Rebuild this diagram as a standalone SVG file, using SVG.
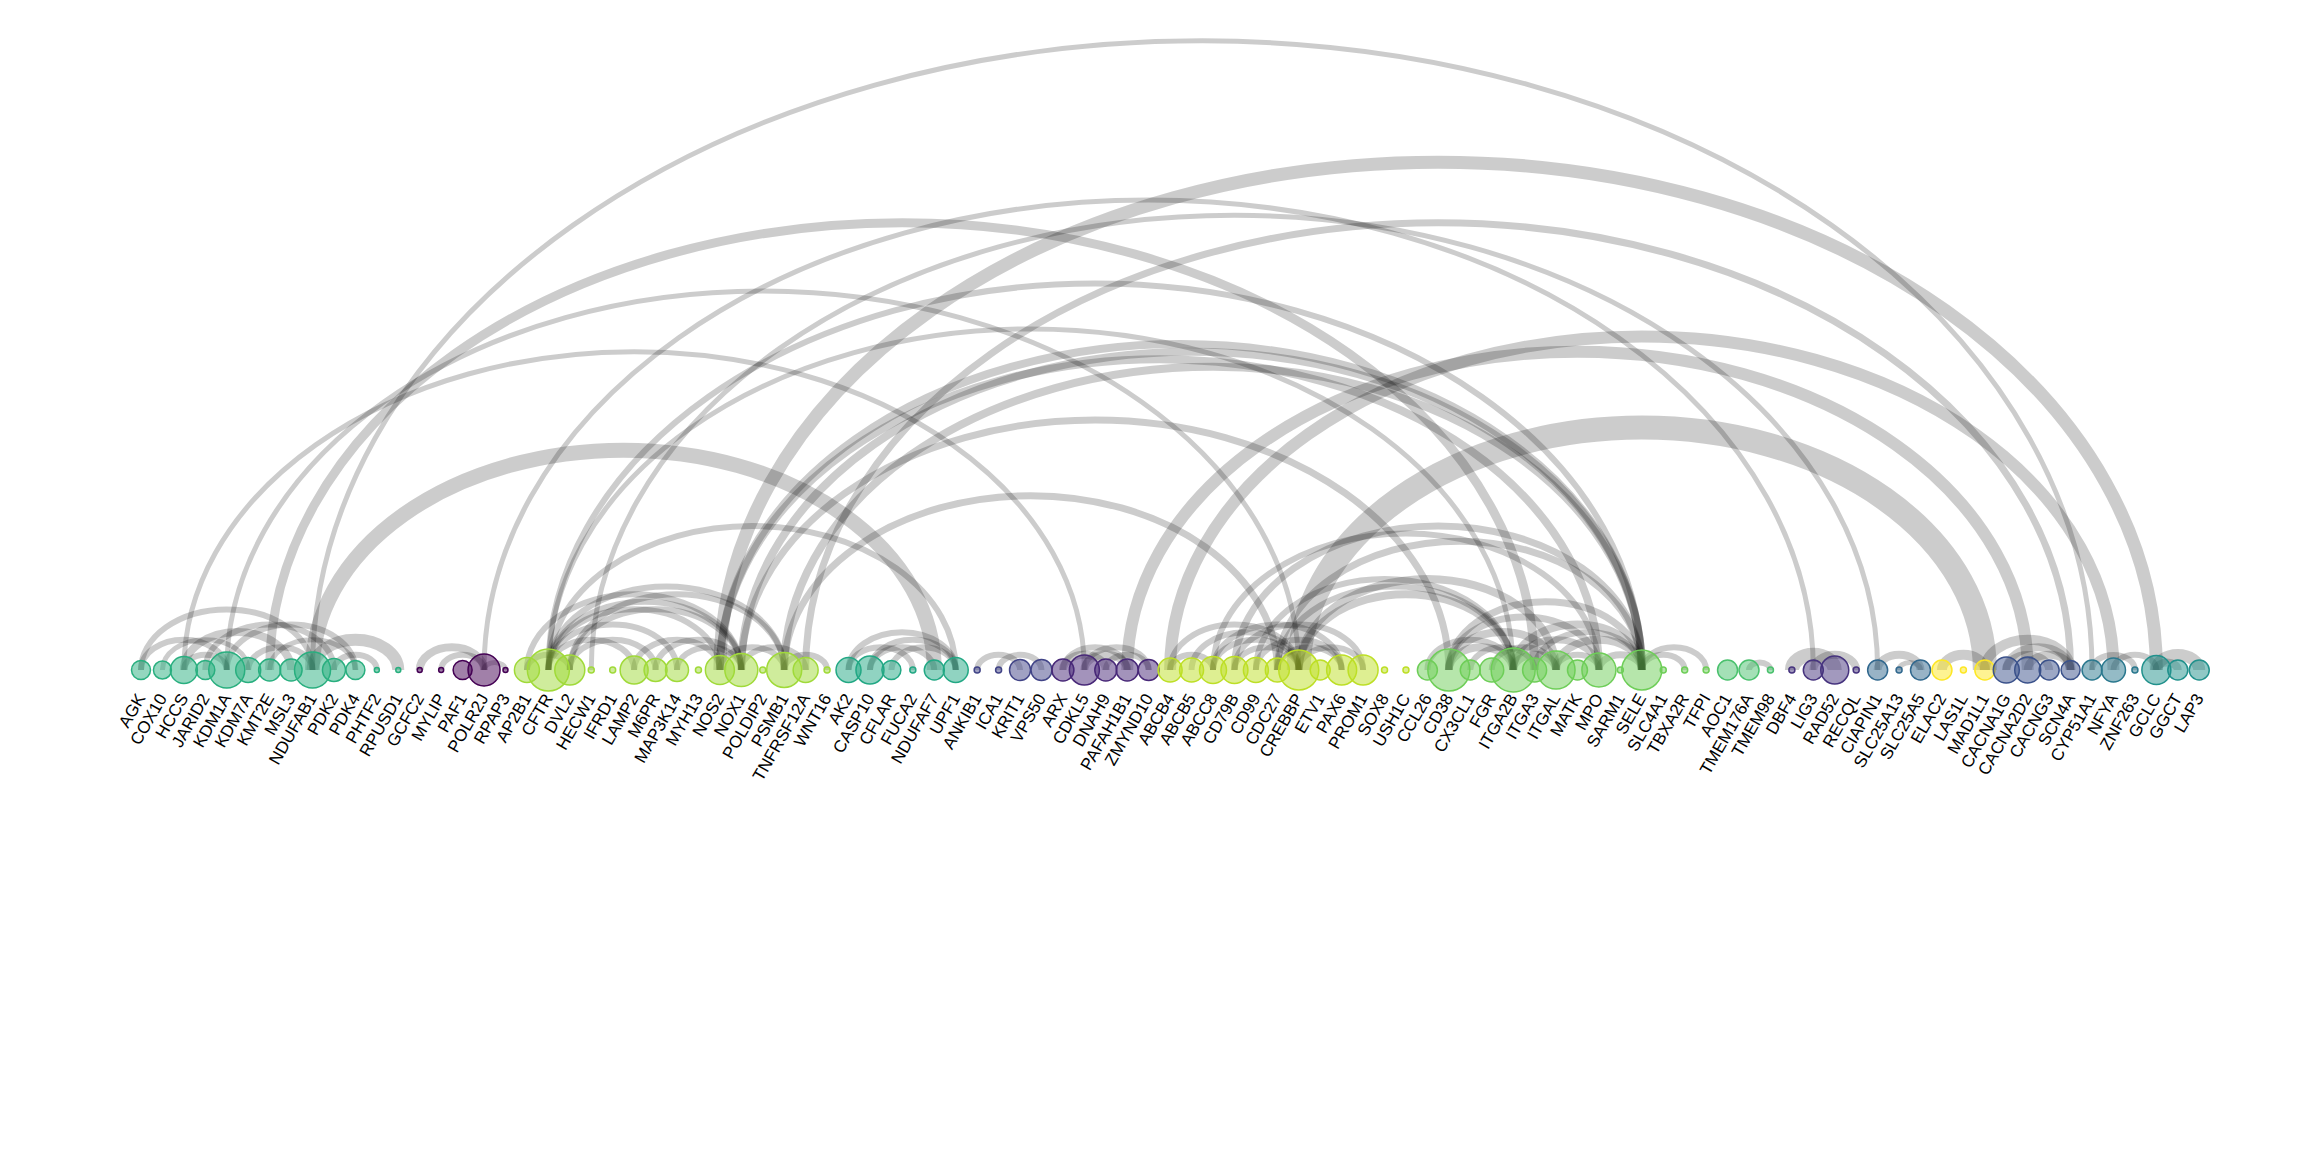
<svg xmlns="http://www.w3.org/2000/svg" width="2304" height="1152" viewBox="0 0 2304 1152">
<style>
.e{fill:none;stroke:#000;stroke-opacity:0.2}
.n{fill-opacity:0.5;stroke-width:1.5}
.l{font-family:"Liberation Sans",Arial,sans-serif;font-size:17px;text-anchor:end;fill:#000}
</style>
<rect width="2304" height="1152" fill="#fff"/>
<g id="edges">
<path class="e" stroke-width="5" d="M312.52 670A889.76 629.14 0 0 1 2092.04 670"/>
<path class="e" stroke-width="13" d="M719.88 670A718.24 507.86 0 0 1 2156.36 670"/>
<path class="e" stroke-width="5" d="M484.04 670A664.64 469.96 0 0 1 1813.32 670"/>
<path class="e" stroke-width="9" d="M269.64 670A632.48 447.22 0 0 1 1534.6 670"/>
<path class="e" stroke-width="5" d="M183.88 670A450.24 318.36 0 0 1 1084.36 670"/>
<path class="e" stroke-width="5" d="M226.76 670A536 379 0 0 1 1298.76 670"/>
<path class="e" stroke-width="15" d="M312.52 670A310.88 219.82 0 0 1 934.28 670"/>
<path class="e" stroke-width="24" d="M1298.76 670A343.04 242.56 0 0 1 1984.84 670"/>
<path class="e" stroke-width="12" d="M1170.12 670A471.68 333.52 0 0 1 2113.48 670"/>
<path class="e" stroke-width="12" d="M1127.24 670A450.24 318.36 0 0 1 2027.72 670"/>
<path class="e" stroke-width="5" d="M591.24 670A643.2 454.8 0 0 1 1877.64 670"/>
<path class="e" stroke-width="7" d="M805.64 670A632.48 447.22 0 0 1 2070.6 670"/>
<path class="e" stroke-width="8" d="M719.88 670A460.96 325.94 0 0 1 1641.8 670"/>
<path class="e" stroke-width="8" d="M741.32 670A450.24 318.36 0 0 1 1641.8 670"/>
<path class="e" stroke-width="8" d="M719.88 670A439.52 310.78 0 0 1 1598.92 670"/>
<path class="e" stroke-width="8" d="M784.2 670A428.8 303.2 0 0 1 1641.8 670"/>
<path class="e" stroke-width="7" d="M784.2 670A246.56 174.34 0 0 1 1277.32 670"/>
<path class="e" stroke-width="6" d="M548.36 670A546.72 386.58 0 0 1 1641.8 670"/>
<path class="e" stroke-width="6" d="M548.36 670A203.68 144.02 0 0 1 955.72 670"/>
<path class="e" stroke-width="7" d="M741.32 670A353.76 250.14 0 0 1 1448.84 670"/>
<path class="e" stroke-width="5" d="M548.36 670A482.4 341.08 0 0 1 1513.16 670"/>
<path class="e" stroke-width="7" d="M1234.44 670A203.68 144.02 0 0 1 1641.8 670"/>
<path class="e" stroke-width="7" d="M1277.32 670A182.24 128.86 0 0 1 1641.8 670"/>
<path class="e" stroke-width="8" d="M1298.76 670A128.64 90.96 0 0 1 1556.04 670"/>
<path class="e" stroke-width="8" d="M1298.76 670A107.2 75.8 0 0 1 1513.16 670"/>
<path class="e" stroke-width="6" d="M1255.88 670A128.64 90.96 0 0 1 1513.16 670"/>
<path class="e" stroke-width="6" d="M1213 670A192.96 136.44 0 0 1 1598.92 670"/>
<path class="e" stroke-width="6" d="M1277.32 670A117.92 83.38 0 0 1 1513.16 670"/>
<path class="e" stroke-width="8" d="M1448.84 670A32.16 22.74 0 0 1 1513.16 670"/>
<path class="e" stroke-width="8" d="M1448.84 670A53.6 37.9 0 0 1 1556.04 670"/>
<path class="e" stroke-width="7" d="M1448.84 670A75.04 53.06 0 0 1 1598.92 670"/>
<path class="e" stroke-width="7" d="M1448.84 670A96.48 68.22 0 0 1 1641.8 670"/>
<path class="e" stroke-width="8" d="M1513.16 670A21.44 15.16 0 0 1 1556.04 670"/>
<path class="e" stroke-width="7" d="M1513.16 670A42.88 30.32 0 0 1 1598.92 670"/>
<path class="e" stroke-width="8" d="M1513.16 670A64.32 45.48 0 0 1 1641.8 670"/>
<path class="e" stroke-width="8" d="M1556.04 670A42.88 30.32 0 0 1 1641.8 670"/>
<path class="e" stroke-width="7" d="M1598.92 670A21.44 15.16 0 0 1 1641.8 670"/>
<path class="e" stroke-width="6" d="M1491.72 670A32.16 22.74 0 0 1 1556.04 670"/>
<path class="e" stroke-width="6" d="M1470.28 670A32.16 22.74 0 0 1 1534.6 670"/>
<path class="e" stroke-width="6" d="M1427.4 670A42.88 30.32 0 0 1 1513.16 670"/>
<path class="e" stroke-width="6" d="M1534.6 670A53.6 37.9 0 0 1 1641.8 670"/>
<path class="e" stroke-width="6" d="M1641.8 670A21.44 15.16 0 0 1 1684.68 670"/>
<path class="e" stroke-width="6" d="M1641.8 670A32.16 22.74 0 0 1 1706.12 670"/>
<path class="e" stroke-width="6" d="M1556.04 670A21.44 15.16 0 0 1 1598.92 670"/>
<path class="e" stroke-width="6" d="M1170.12 670A21.44 15.16 0 0 1 1213 670"/>
<path class="e" stroke-width="6" d="M1170.12 670A64.32 45.48 0 0 1 1298.76 670"/>
<path class="e" stroke-width="6" d="M1191.56 670A53.6 37.9 0 0 1 1298.76 670"/>
<path class="e" stroke-width="6" d="M1213 670A64.32 45.48 0 0 1 1341.64 670"/>
<path class="e" stroke-width="6" d="M1234.44 670A32.16 22.74 0 0 1 1298.76 670"/>
<path class="e" stroke-width="6" d="M1234.44 670A64.32 45.48 0 0 1 1363.08 670"/>
<path class="e" stroke-width="6" d="M1255.88 670A42.88 30.32 0 0 1 1341.64 670"/>
<path class="e" stroke-width="6" d="M1277.32 670A32.16 22.74 0 0 1 1341.64 670"/>
<path class="e" stroke-width="6" d="M1298.76 670A32.16 22.74 0 0 1 1363.08 670"/>
<path class="e" stroke-width="6" d="M1213 670A42.88 30.32 0 0 1 1298.76 670"/>
<path class="e" stroke-width="6" d="M526.92 670A21.44 15.16 0 0 1 569.8 670"/>
<path class="e" stroke-width="6" d="M548.36 670A42.88 30.32 0 0 1 634.12 670"/>
<path class="e" stroke-width="6" d="M548.36 670A64.32 45.48 0 0 1 677 670"/>
<path class="e" stroke-width="6" d="M548.36 670A85.76 60.64 0 0 1 719.88 670"/>
<path class="e" stroke-width="6" d="M548.36 670A96.48 68.22 0 0 1 741.32 670"/>
<path class="e" stroke-width="6" d="M548.36 670A117.92 83.38 0 0 1 784.2 670"/>
<path class="e" stroke-width="6" d="M569.8 670A42.88 30.32 0 0 1 655.56 670"/>
<path class="e" stroke-width="6" d="M569.8 670A85.76 60.64 0 0 1 741.32 670"/>
<path class="e" stroke-width="6" d="M526.92 670A107.2 75.8 0 0 1 741.32 670"/>
<path class="e" stroke-width="6" d="M634.12 670A42.88 30.32 0 0 1 719.88 670"/>
<path class="e" stroke-width="6" d="M655.56 670A42.88 30.32 0 0 1 741.32 670"/>
<path class="e" stroke-width="6" d="M677 670A32.16 22.74 0 0 1 741.32 670"/>
<path class="e" stroke-width="6" d="M719.88 670A32.16 22.74 0 0 1 784.2 670"/>
<path class="e" stroke-width="6" d="M741.32 670A32.16 22.74 0 0 1 805.64 670"/>
<path class="e" stroke-width="6" d="M784.2 670A21.44 15.16 0 0 1 827.08 670"/>
<path class="e" stroke-width="6" d="M569.8 670A107.2 75.8 0 0 1 784.2 670"/>
<path class="e" stroke-width="6" d="M848.52 670A32.16 22.74 0 0 1 912.84 670"/>
<path class="e" stroke-width="6" d="M848.52 670A53.6 37.9 0 0 1 955.72 670"/>
<path class="e" stroke-width="6" d="M869.96 670A32.16 22.74 0 0 1 934.28 670"/>
<path class="e" stroke-width="6" d="M869.96 670A42.88 30.32 0 0 1 955.72 670"/>
<path class="e" stroke-width="6" d="M891.4 670A32.16 22.74 0 0 1 955.72 670"/>
<path class="e" stroke-width="6" d="M977.16 670A21.44 15.16 0 0 1 1020.04 670"/>
<path class="e" stroke-width="6" d="M998.6 670A21.44 15.16 0 0 1 1041.48 670"/>
<path class="e" stroke-width="8" d="M1062.92 670A21.44 15.16 0 0 1 1105.8 670"/>
<path class="e" stroke-width="6" d="M1062.92 670A32.16 22.74 0 0 1 1127.24 670"/>
<path class="e" stroke-width="8" d="M1084.36 670A21.44 15.16 0 0 1 1127.24 670"/>
<path class="e" stroke-width="6" d="M1084.36 670A32.16 22.74 0 0 1 1148.68 670"/>
<path class="e" stroke-width="6" d="M1105.8 670A21.44 15.16 0 0 1 1148.68 670"/>
<path class="e" stroke-width="6" d="M141 670A42.88 30.32 0 0 1 226.76 670"/>
<path class="e" stroke-width="6" d="M141 670A85.76 60.64 0 0 1 312.52 670"/>
<path class="e" stroke-width="5" d="M162.44 670A42.88 30.32 0 0 1 248.2 670"/>
<path class="e" stroke-width="8" d="M183.88 670A53.6 37.9 0 0 1 291.08 670"/>
<path class="e" stroke-width="6" d="M205.32 670A64.32 45.48 0 0 1 333.96 670"/>
<path class="e" stroke-width="6" d="M226.76 670A64.32 45.48 0 0 1 355.4 670"/>
<path class="e" stroke-width="6" d="M248.2 670A32.16 22.74 0 0 1 312.52 670"/>
<path class="e" stroke-width="5" d="M269.64 670A42.88 30.32 0 0 1 355.4 670"/>
<path class="e" stroke-width="12" d="M312.52 670A42.88 30.32 0 0 1 398.28 670"/>
<path class="e" stroke-width="6" d="M333.96 670A21.44 15.16 0 0 1 376.84 670"/>
<path class="e" stroke-width="6" d="M183.88 670A21.44 15.16 0 0 1 226.76 670"/>
<path class="e" stroke-width="8" d="M419.72 670A32.16 22.74 0 0 1 484.04 670"/>
<path class="e" stroke-width="6" d="M441.16 670A21.44 15.16 0 0 1 484.04 670"/>
<path class="e" stroke-width="5" d="M484.04 670A10.72 7.58 0 0 1 505.48 670"/>
<path class="e" stroke-width="6" d="M1749 670A10.72 7.58 0 0 1 1770.44 670"/>
<path class="e" stroke-width="14" d="M1791.88 670A21.44 15.16 0 0 1 1834.76 670"/>
<path class="e" stroke-width="8" d="M1813.32 670A21.44 15.16 0 0 1 1856.2 670"/>
<path class="e" stroke-width="8" d="M1877.64 670A21.44 15.16 0 0 1 1920.52 670"/>
<path class="e" stroke-width="5" d="M1899.08 670A10.72 7.58 0 0 1 1920.52 670"/>
<path class="e" stroke-width="10" d="M1941.96 670A21.44 15.16 0 0 1 1984.84 670"/>
<path class="e" stroke-width="10" d="M1984.84 670A42.88 30.32 0 0 1 2070.6 670"/>
<path class="e" stroke-width="8" d="M2006.28 670A21.44 15.16 0 0 1 2049.16 670"/>
<path class="e" stroke-width="8" d="M2006.28 670A32.16 22.74 0 0 1 2070.6 670"/>
<path class="e" stroke-width="8" d="M2027.72 670A21.44 15.16 0 0 1 2070.6 670"/>
<path class="e" stroke-width="6" d="M2092.04 670A21.44 15.16 0 0 1 2134.92 670"/>
<path class="e" stroke-width="12" d="M2156.36 670A21.44 15.16 0 0 1 2199.24 670"/>
<path class="e" stroke-width="8" d="M2156.36 670A10.72 7.58 0 0 1 2177.8 670"/>
<path class="e" stroke-width="6" d="M2113.48 670A21.44 15.16 0 0 1 2156.36 670"/>
</g>
<g id="nodes">
<g id="n0"><circle class="n" cx="141" cy="670" r="9.5" fill="#29af7f" stroke="#29af7f"/><text class="l" transform="translate(146,698) rotate(-60)">AGK</text></g>
<g id="n1"><circle class="n" cx="162.44" cy="670" r="9" fill="#29af7f" stroke="#29af7f"/><text class="l" transform="translate(167.44,698) rotate(-60)">COX10</text></g>
<g id="n2"><circle class="n" cx="183.88" cy="670" r="13.5" fill="#29af7f" stroke="#29af7f"/><text class="l" transform="translate(188.88,698) rotate(-60)">HCCS</text></g>
<g id="n3"><circle class="n" cx="205.32" cy="670" r="9.5" fill="#29af7f" stroke="#29af7f"/><text class="l" transform="translate(210.32,698) rotate(-60)">JARID2</text></g>
<g id="n4"><circle class="n" cx="226.76" cy="670" r="18" fill="#29af7f" stroke="#29af7f"/><text class="l" transform="translate(231.76,698) rotate(-60)">KDM1A</text></g>
<g id="n5"><circle class="n" cx="248.2" cy="670" r="12.5" fill="#29af7f" stroke="#29af7f"/><text class="l" transform="translate(253.2,698) rotate(-60)">KDM7A</text></g>
<g id="n6"><circle class="n" cx="269.64" cy="670" r="11" fill="#29af7f" stroke="#29af7f"/><text class="l" transform="translate(274.64,698) rotate(-60)">KMT2E</text></g>
<g id="n7"><circle class="n" cx="291.08" cy="670" r="11" fill="#29af7f" stroke="#29af7f"/><text class="l" transform="translate(296.08,698) rotate(-60)">MSL3</text></g>
<g id="n8"><circle class="n" cx="312.52" cy="670" r="18" fill="#29af7f" stroke="#29af7f"/><text class="l" transform="translate(317.52,698) rotate(-60)">NDUFAB1</text></g>
<g id="n9"><circle class="n" cx="333.96" cy="670" r="11.5" fill="#29af7f" stroke="#29af7f"/><text class="l" transform="translate(338.96,698) rotate(-60)">PDK2</text></g>
<g id="n10"><circle class="n" cx="355.4" cy="670" r="9.5" fill="#29af7f" stroke="#29af7f"/><text class="l" transform="translate(360.4,698) rotate(-60)">PDK4</text></g>
<g id="n11"><circle class="n" cx="376.84" cy="670" r="2.5" fill="#29af7f" stroke="#29af7f"/><text class="l" transform="translate(381.84,698) rotate(-60)">PHTF2</text></g>
<g id="n12"><circle class="n" cx="398.28" cy="670" r="2.5" fill="#29af7f" stroke="#29af7f"/><text class="l" transform="translate(403.28,698) rotate(-60)">RPUSD1</text></g>
<g id="n13"><circle class="n" cx="419.72" cy="670" r="2.5" fill="#440154" stroke="#440154"/><text class="l" transform="translate(424.72,698) rotate(-60)">GCFC2</text></g>
<g id="n14"><circle class="n" cx="441.16" cy="670" r="2.5" fill="#440154" stroke="#440154"/><text class="l" transform="translate(446.16,698) rotate(-60)">MYLIP</text></g>
<g id="n15"><circle class="n" cx="462.6" cy="670" r="9.5" fill="#440154" stroke="#440154"/><text class="l" transform="translate(467.6,698) rotate(-60)">PAF1</text></g>
<g id="n16"><circle class="n" cx="484.04" cy="670" r="16" fill="#440154" stroke="#440154"/><text class="l" transform="translate(489.04,698) rotate(-60)">POLR2J</text></g>
<g id="n17"><circle class="n" cx="505.48" cy="670" r="2.5" fill="#440154" stroke="#440154"/><text class="l" transform="translate(510.48,698) rotate(-60)">RPAP3</text></g>
<g id="n18"><circle class="n" cx="526.92" cy="670" r="12.5" fill="#a0da39" stroke="#a0da39"/><text class="l" transform="translate(531.92,698) rotate(-60)">AP2B1</text></g>
<g id="n19"><circle class="n" cx="548.36" cy="670" r="21" fill="#a0da39" stroke="#a0da39"/><text class="l" transform="translate(553.36,698) rotate(-60)">CFTR</text></g>
<g id="n20"><circle class="n" cx="569.8" cy="670" r="15" fill="#a0da39" stroke="#a0da39"/><text class="l" transform="translate(574.8,698) rotate(-60)">DVL2</text></g>
<g id="n21"><circle class="n" cx="591.24" cy="670" r="3" fill="#a0da39" stroke="#a0da39"/><text class="l" transform="translate(596.24,698) rotate(-60)">HECW1</text></g>
<g id="n22"><circle class="n" cx="612.68" cy="670" r="3" fill="#a0da39" stroke="#a0da39"/><text class="l" transform="translate(617.68,698) rotate(-60)">IFRD1</text></g>
<g id="n23"><circle class="n" cx="634.12" cy="670" r="14" fill="#a0da39" stroke="#a0da39"/><text class="l" transform="translate(639.12,698) rotate(-60)">LAMP2</text></g>
<g id="n24"><circle class="n" cx="655.56" cy="670" r="11.5" fill="#a0da39" stroke="#a0da39"/><text class="l" transform="translate(660.56,698) rotate(-60)">M6PR</text></g>
<g id="n25"><circle class="n" cx="677" cy="670" r="11.5" fill="#a0da39" stroke="#a0da39"/><text class="l" transform="translate(682,698) rotate(-60)">MAP3K14</text></g>
<g id="n26"><circle class="n" cx="698.44" cy="670" r="3" fill="#a0da39" stroke="#a0da39"/><text class="l" transform="translate(703.44,698) rotate(-60)">MYH13</text></g>
<g id="n27"><circle class="n" cx="719.88" cy="670" r="14.5" fill="#a0da39" stroke="#a0da39"/><text class="l" transform="translate(724.88,698) rotate(-60)">NOS2</text></g>
<g id="n28"><circle class="n" cx="741.32" cy="670" r="16.5" fill="#a0da39" stroke="#a0da39"/><text class="l" transform="translate(746.32,698) rotate(-60)">NOX1</text></g>
<g id="n29"><circle class="n" cx="762.76" cy="670" r="3" fill="#a0da39" stroke="#a0da39"/><text class="l" transform="translate(767.76,698) rotate(-60)">POLDIP2</text></g>
<g id="n30"><circle class="n" cx="784.2" cy="670" r="17.5" fill="#a0da39" stroke="#a0da39"/><text class="l" transform="translate(789.2,698) rotate(-60)">PSMB1</text></g>
<g id="n31"><circle class="n" cx="805.64" cy="670" r="12.5" fill="#a0da39" stroke="#a0da39"/><text class="l" transform="translate(810.64,698) rotate(-60)">TNFRSF12A</text></g>
<g id="n32"><circle class="n" cx="827.08" cy="670" r="3" fill="#a0da39" stroke="#a0da39"/><text class="l" transform="translate(832.08,698) rotate(-60)">WNT16</text></g>
<g id="n33"><circle class="n" cx="848.52" cy="670" r="12.5" fill="#22a884" stroke="#22a884"/><text class="l" transform="translate(853.52,698) rotate(-60)">AK2</text></g>
<g id="n34"><circle class="n" cx="869.96" cy="670" r="14" fill="#22a884" stroke="#22a884"/><text class="l" transform="translate(874.96,698) rotate(-60)">CASP10</text></g>
<g id="n35"><circle class="n" cx="891.4" cy="670" r="9.5" fill="#22a884" stroke="#22a884"/><text class="l" transform="translate(896.4,698) rotate(-60)">CFLAR</text></g>
<g id="n36"><circle class="n" cx="912.84" cy="670" r="3" fill="#22a884" stroke="#22a884"/><text class="l" transform="translate(917.84,698) rotate(-60)">FUCA2</text></g>
<g id="n37"><circle class="n" cx="934.28" cy="670" r="10" fill="#22a884" stroke="#22a884"/><text class="l" transform="translate(939.28,698) rotate(-60)">NDUFAF7</text></g>
<g id="n38"><circle class="n" cx="955.72" cy="670" r="12.5" fill="#22a884" stroke="#22a884"/><text class="l" transform="translate(960.72,698) rotate(-60)">UPF1</text></g>
<g id="n39"><circle class="n" cx="977.16" cy="670" r="3" fill="#414487" stroke="#414487"/><text class="l" transform="translate(982.16,698) rotate(-60)">ANKIB1</text></g>
<g id="n40"><circle class="n" cx="998.6" cy="670" r="3" fill="#414487" stroke="#414487"/><text class="l" transform="translate(1003.6,698) rotate(-60)">ICA1</text></g>
<g id="n41"><circle class="n" cx="1020.04" cy="670" r="10.5" fill="#414487" stroke="#414487"/><text class="l" transform="translate(1025.04,698) rotate(-60)">KRIT1</text></g>
<g id="n42"><circle class="n" cx="1041.48" cy="670" r="10.5" fill="#414487" stroke="#414487"/><text class="l" transform="translate(1046.48,698) rotate(-60)">VPS50</text></g>
<g id="n43"><circle class="n" cx="1062.92" cy="670" r="11" fill="#482878" stroke="#482878"/><text class="l" transform="translate(1067.92,698) rotate(-60)">ARX</text></g>
<g id="n44"><circle class="n" cx="1084.36" cy="670" r="15" fill="#482878" stroke="#482878"/><text class="l" transform="translate(1089.36,698) rotate(-60)">CDKL5</text></g>
<g id="n45"><circle class="n" cx="1105.8" cy="670" r="11" fill="#482878" stroke="#482878"/><text class="l" transform="translate(1110.8,698) rotate(-60)">DNAH9</text></g>
<g id="n46"><circle class="n" cx="1127.24" cy="670" r="11" fill="#482878" stroke="#482878"/><text class="l" transform="translate(1132.24,698) rotate(-60)">PAFAH1B1</text></g>
<g id="n47"><circle class="n" cx="1148.68" cy="670" r="10.5" fill="#482878" stroke="#482878"/><text class="l" transform="translate(1153.68,698) rotate(-60)">ZMYND10</text></g>
<g id="n48"><circle class="n" cx="1170.12" cy="670" r="12" fill="#bddf26" stroke="#bddf26"/><text class="l" transform="translate(1175.12,698) rotate(-60)">ABCB4</text></g>
<g id="n49"><circle class="n" cx="1191.56" cy="670" r="12" fill="#bddf26" stroke="#bddf26"/><text class="l" transform="translate(1196.56,698) rotate(-60)">ABCB5</text></g>
<g id="n50"><circle class="n" cx="1213" cy="670" r="13.5" fill="#bddf26" stroke="#bddf26"/><text class="l" transform="translate(1218,698) rotate(-60)">ABCC8</text></g>
<g id="n51"><circle class="n" cx="1234.44" cy="670" r="13.5" fill="#bddf26" stroke="#bddf26"/><text class="l" transform="translate(1239.44,698) rotate(-60)">CD79B</text></g>
<g id="n52"><circle class="n" cx="1255.88" cy="670" r="12.5" fill="#bddf26" stroke="#bddf26"/><text class="l" transform="translate(1260.88,698) rotate(-60)">CD99</text></g>
<g id="n53"><circle class="n" cx="1277.32" cy="670" r="12" fill="#bddf26" stroke="#bddf26"/><text class="l" transform="translate(1282.32,698) rotate(-60)">CDC27</text></g>
<g id="n54"><circle class="n" cx="1298.76" cy="670" r="20" fill="#bddf26" stroke="#bddf26"/><text class="l" transform="translate(1303.76,698) rotate(-60)">CREBBP</text></g>
<g id="n55"><circle class="n" cx="1320.2" cy="670" r="10" fill="#bddf26" stroke="#bddf26"/><text class="l" transform="translate(1325.2,698) rotate(-60)">ETV1</text></g>
<g id="n56"><circle class="n" cx="1341.64" cy="670" r="15" fill="#bddf26" stroke="#bddf26"/><text class="l" transform="translate(1346.64,698) rotate(-60)">PAX6</text></g>
<g id="n57"><circle class="n" cx="1363.08" cy="670" r="15" fill="#bddf26" stroke="#bddf26"/><text class="l" transform="translate(1368.08,698) rotate(-60)">PROM1</text></g>
<g id="n58"><circle class="n" cx="1384.52" cy="670" r="3" fill="#bddf26" stroke="#bddf26"/><text class="l" transform="translate(1389.52,698) rotate(-60)">SOX8</text></g>
<g id="n59"><circle class="n" cx="1405.96" cy="670" r="3" fill="#bddf26" stroke="#bddf26"/><text class="l" transform="translate(1410.96,698) rotate(-60)">USH1C</text></g>
<g id="n60"><circle class="n" cx="1427.4" cy="670" r="10" fill="#6ece58" stroke="#6ece58"/><text class="l" transform="translate(1432.4,698) rotate(-60)">CCL26</text></g>
<g id="n61"><circle class="n" cx="1448.84" cy="670" r="21" fill="#6ece58" stroke="#6ece58"/><text class="l" transform="translate(1453.84,698) rotate(-60)">CD38</text></g>
<g id="n62"><circle class="n" cx="1470.28" cy="670" r="10" fill="#6ece58" stroke="#6ece58"/><text class="l" transform="translate(1475.28,698) rotate(-60)">CX3CL1</text></g>
<g id="n63"><circle class="n" cx="1491.72" cy="670" r="12" fill="#6ece58" stroke="#6ece58"/><text class="l" transform="translate(1496.72,698) rotate(-60)">FGR</text></g>
<g id="n64"><circle class="n" cx="1513.16" cy="670" r="22" fill="#6ece58" stroke="#6ece58"/><text class="l" transform="translate(1518.16,698) rotate(-60)">ITGA2B</text></g>
<g id="n65"><circle class="n" cx="1534.6" cy="670" r="12" fill="#6ece58" stroke="#6ece58"/><text class="l" transform="translate(1539.6,698) rotate(-60)">ITGA3</text></g>
<g id="n66"><circle class="n" cx="1556.04" cy="670" r="19" fill="#6ece58" stroke="#6ece58"/><text class="l" transform="translate(1561.04,698) rotate(-60)">ITGAL</text></g>
<g id="n67"><circle class="n" cx="1577.48" cy="670" r="10" fill="#6ece58" stroke="#6ece58"/><text class="l" transform="translate(1582.48,698) rotate(-60)">MATK</text></g>
<g id="n68"><circle class="n" cx="1598.92" cy="670" r="17" fill="#6ece58" stroke="#6ece58"/><text class="l" transform="translate(1603.92,698) rotate(-60)">MPO</text></g>
<g id="n69"><circle class="n" cx="1620.36" cy="670" r="3" fill="#6ece58" stroke="#6ece58"/><text class="l" transform="translate(1625.36,698) rotate(-60)">SARM1</text></g>
<g id="n70"><circle class="n" cx="1641.8" cy="670" r="20" fill="#6ece58" stroke="#6ece58"/><text class="l" transform="translate(1646.8,698) rotate(-60)">SELE</text></g>
<g id="n71"><circle class="n" cx="1663.24" cy="670" r="3" fill="#6ece58" stroke="#6ece58"/><text class="l" transform="translate(1668.24,698) rotate(-60)">SLC4A1</text></g>
<g id="n72"><circle class="n" cx="1684.68" cy="670" r="3" fill="#6ece58" stroke="#6ece58"/><text class="l" transform="translate(1689.68,698) rotate(-60)">TBXA2R</text></g>
<g id="n73"><circle class="n" cx="1706.12" cy="670" r="3" fill="#6ece58" stroke="#6ece58"/><text class="l" transform="translate(1711.12,698) rotate(-60)">TFPI</text></g>
<g id="n74"><circle class="n" cx="1727.56" cy="670" r="10" fill="#4ac16d" stroke="#4ac16d"/><text class="l" transform="translate(1732.56,698) rotate(-60)">AOC1</text></g>
<g id="n75"><circle class="n" cx="1749" cy="670" r="10" fill="#4ac16d" stroke="#4ac16d"/><text class="l" transform="translate(1754,698) rotate(-60)">TMEM176A</text></g>
<g id="n76"><circle class="n" cx="1770.44" cy="670" r="3" fill="#4ac16d" stroke="#4ac16d"/><text class="l" transform="translate(1775.44,698) rotate(-60)">TMEM98</text></g>
<g id="n77"><circle class="n" cx="1791.88" cy="670" r="3" fill="#46337e" stroke="#46337e"/><text class="l" transform="translate(1796.88,698) rotate(-60)">DBF4</text></g>
<g id="n78"><circle class="n" cx="1813.32" cy="670" r="10" fill="#46337e" stroke="#46337e"/><text class="l" transform="translate(1818.32,698) rotate(-60)">LIG3</text></g>
<g id="n79"><circle class="n" cx="1834.76" cy="670" r="14" fill="#46337e" stroke="#46337e"/><text class="l" transform="translate(1839.76,698) rotate(-60)">RAD52</text></g>
<g id="n80"><circle class="n" cx="1856.2" cy="670" r="3" fill="#46337e" stroke="#46337e"/><text class="l" transform="translate(1861.2,698) rotate(-60)">RECQL</text></g>
<g id="n81"><circle class="n" cx="1877.64" cy="670" r="10" fill="#31688e" stroke="#31688e"/><text class="l" transform="translate(1882.64,698) rotate(-60)">CIAPIN1</text></g>
<g id="n82"><circle class="n" cx="1899.08" cy="670" r="3" fill="#31688e" stroke="#31688e"/><text class="l" transform="translate(1904.08,698) rotate(-60)">SLC25A13</text></g>
<g id="n83"><circle class="n" cx="1920.52" cy="670" r="10" fill="#31688e" stroke="#31688e"/><text class="l" transform="translate(1925.52,698) rotate(-60)">SLC25A5</text></g>
<g id="n84"><circle class="n" cx="1941.96" cy="670" r="10" fill="#fde725" stroke="#fde725"/><text class="l" transform="translate(1946.96,698) rotate(-60)">ELAC2</text></g>
<g id="n85"><circle class="n" cx="1963.4" cy="670" r="3" fill="#fde725" stroke="#fde725"/><text class="l" transform="translate(1968.4,698) rotate(-60)">LAS1L</text></g>
<g id="n86"><circle class="n" cx="1984.84" cy="670" r="10" fill="#fde725" stroke="#fde725"/><text class="l" transform="translate(1989.84,698) rotate(-60)">MAD1L1</text></g>
<g id="n87"><circle class="n" cx="2006.28" cy="670" r="13" fill="#3b528b" stroke="#3b528b"/><text class="l" transform="translate(2011.28,698) rotate(-60)">CACNA1G</text></g>
<g id="n88"><circle class="n" cx="2027.72" cy="670" r="13" fill="#3b528b" stroke="#3b528b"/><text class="l" transform="translate(2032.72,698) rotate(-60)">CACNA2D2</text></g>
<g id="n89"><circle class="n" cx="2049.16" cy="670" r="10" fill="#3b528b" stroke="#3b528b"/><text class="l" transform="translate(2054.16,698) rotate(-60)">CACNG3</text></g>
<g id="n90"><circle class="n" cx="2070.6" cy="670" r="9.5" fill="#3b528b" stroke="#3b528b"/><text class="l" transform="translate(2075.6,698) rotate(-60)">SCN4A</text></g>
<g id="n91"><circle class="n" cx="2092.04" cy="670" r="10" fill="#2a788e" stroke="#2a788e"/><text class="l" transform="translate(2097.04,698) rotate(-60)">CYP51A1</text></g>
<g id="n92"><circle class="n" cx="2113.48" cy="670" r="12" fill="#2a788e" stroke="#2a788e"/><text class="l" transform="translate(2118.48,698) rotate(-60)">NFYA</text></g>
<g id="n93"><circle class="n" cx="2134.92" cy="670" r="3" fill="#2a788e" stroke="#2a788e"/><text class="l" transform="translate(2139.92,698) rotate(-60)">ZNF263</text></g>
<g id="n94"><circle class="n" cx="2156.36" cy="670" r="14.5" fill="#21918c" stroke="#21918c"/><text class="l" transform="translate(2161.36,698) rotate(-60)">GCLC</text></g>
<g id="n95"><circle class="n" cx="2177.8" cy="670" r="10" fill="#21918c" stroke="#21918c"/><text class="l" transform="translate(2182.8,698) rotate(-60)">GGCT</text></g>
<g id="n96"><circle class="n" cx="2199.24" cy="670" r="10" fill="#21918c" stroke="#21918c"/><text class="l" transform="translate(2204.24,698) rotate(-60)">LAP3</text></g>
</g>
</svg>
